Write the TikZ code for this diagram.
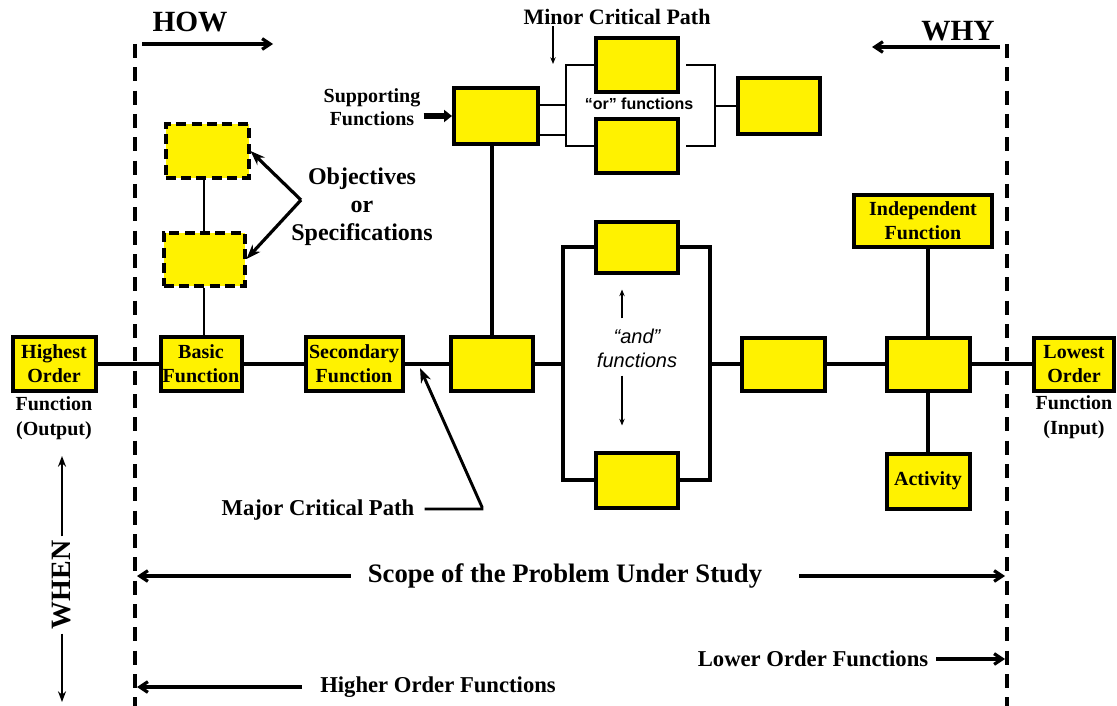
\documentclass[tikz,border=0pt]{standalone}
\usepackage{fontspec}
\setmainfont{Liberation Serif}
\newfontfamily\arialfont{Liberation Sans}
\usetikzlibrary{arrows.meta}
\newlength\pxu
\setlength\pxu{0.75pt}

\begin{document}
\begin{tikzpicture}[x=0.75pt, y=-0.75pt,
  fbox/.style={draw=black, fill=yellow, line width=3pt, inner sep=0pt,
    align=center, font=\bfseries\fontsize{15}{18}\selectfont},
  objbox/.style={fbox, dash pattern=on 7.5pt off 4pt},
  link/.style={line width=2.6pt},
  thinlink/.style={line width=1pt},
  boundary/.style={line width=2.5pt, dash pattern=on 10.5pt off 7pt},
  lbl/.style={inner sep=0pt, align=center, font=\bfseries\fontsize{15}{18}\selectfont},
  biglbl/.style={inner sep=0pt, align=center, font=\bfseries\fontsize{18}{20.5}\selectfont},
  midlbl/.style={inner sep=0pt, align=center, font=\bfseries\fontsize{17}{20}\selectfont},
  head/.style={inner sep=0pt, font=\bfseries\fontsize{22}{24}\selectfont},
  dirarrow/.style={line width=2.4pt, -{Straight Barb[length=6pt,width=8pt]}},
  pointer/.style={line width=2.4pt, -{Stealth[length=11pt,width=8pt]}},
  fine/.style={line width=1pt, -{Stealth[length=5pt,width=4pt]}},
]
\useasboundingbox (0,0) rectangle (1117,706);

% scope boundaries
\coordinate (Ltop) at (135,44);
\coordinate (Lbot) at (135,706);
\coordinate (Rtop) at (1007,44);
\coordinate (Rbot) at (1007,706);
\draw[boundary] (Ltop) -- (Lbot);
\draw[boundary] (Rtop) -- (Rbot);

% HOW / WHY directions
\node[head] (how) at (190,22) {HOW};
\draw[dirarrow] ([xshift=7\pxu]Ltop) -- ++(131,0);
\node[head] (why) at (958,31) {WHY};
\draw[dirarrow] ([xshift=-7\pxu,yshift=-3\pxu]Rtop) -- ++(-128,0);

% main path boxes
\node[fbox, minimum width=83\pxu, minimum height=54\pxu] (hi) at (54,364) {Highest\\Order};
\node[fbox, minimum width=81\pxu, minimum height=54\pxu] (basic) at (201,364) {Basic\\Function};
\node[fbox, minimum width=97\pxu, minimum height=54\pxu] (second) at (354,364) {Secondary\\Function};
\node[fbox, minimum width=82\pxu, minimum height=54\pxu] (m3) at (492,364) {};
\node[fbox, minimum width=83\pxu, minimum height=53\pxu] (m5) at (783,364) {};
\node[fbox, minimum width=83\pxu, minimum height=53\pxu] (m6) at (928,364) {};
\node[fbox, minimum width=80\pxu, minimum height=53\pxu] (lo) at (1074,364) {Lowest\\Order};

\node[lbl, font=\bfseries\fontsize{15}{19}\selectfont] (hiL) at (54,418) {Function\\(Output)};
\node[lbl, font=\bfseries\fontsize{15}{19}\selectfont] (loL) at (1074,417) {Function\\(Input)};

% objectives (dashed)
\node[objbox, minimum width=83\pxu, minimum height=54\pxu] (obj1) at (207,151) {};
\node[objbox, minimum width=81\pxu, minimum height=53\pxu] (obj2) at (204,259) {};
\draw[thinlink] (obj2) -- (obj2 |- obj1.south);
\draw[thinlink] (obj2) -- (obj2 |- basic.north);
\node[biglbl, font=\bfseries\fontsize{18}{21}\selectfont] (objL) at (362,207) {Objectives\\or\\Specifications};
\coordinate (objtip) at (301,200);
\draw[pointer] (objtip) -- (obj1.east);
\draw[pointer] (objtip) -- (obj2.east);

% "and" branch
\node[fbox, minimum width=82\pxu, minimum height=51\pxu] (andT) at (637,247) {};
\node[fbox, minimum width=82\pxu, minimum height=55\pxu] (andB) at (637,480) {};
\coordinate (andL) at (563,364);
\coordinate (andR) at (710,364);
\draw[link] (andT) -| (andL) |- (andB);
\draw[link] (andT) -| (andR) |- (andB);
\node[inner sep=0pt, align=center, font=\arialfont\itshape\fontsize{15}{18}\selectfont] (andL2) at (637,348) {“and”\\functions};
\draw[fine] ([xshift=-15\pxu,yshift=10\pxu]andL2.north) -- ([xshift=-15\pxu,yshift=-15\pxu]andL2.north |- andT.south);
\draw[fine] ([xshift=-15\pxu,yshift=-8\pxu]andL2.south) -- ([xshift=-15\pxu,yshift=25\pxu]andL2.south |- andB.north);

% main path connectors
\draw[link] (hi) -- (basic);
\draw[link] (basic) -- (second);
\draw[link] (second) -- (m3);
\draw[link] (m3) -- (andL);
\draw[link] (andR) -- (m5);
\draw[link] (m5) -- (m6);
\draw[link] (m6) -- (lo);

% independent function and activity
\node[fbox, minimum width=138\pxu, minimum height=52\pxu] (indep) at (923,221) {Independent\\Function};
\node[fbox, minimum width=83\pxu, minimum height=55\pxu] (act) at (928,481) {Activity};
\draw[link] (m6) -- (m6 |- indep.south);
\draw[link] (m6) -- (act);

% supporting functions and "or" branch
\node[fbox, minimum width=84\pxu, minimum height=56\pxu] (sup) at (496,116) {};
\draw[link] (m3) -- (m3 |- sup.south);
\node[lbl, font=\bfseries\fontsize{15}{17.5}\selectfont] (supL) at (372,107) {Supporting\\Functions};
\draw[line width=3.8pt, -{Triangle[length=6pt,width=9pt]}] ([xshift=3\pxu]supL.east |- sup.west) -- (sup.west);

\node[fbox, minimum width=82\pxu, minimum height=54\pxu] (orT) at (637,65) {};
\node[fbox, minimum width=82\pxu, minimum height=54\pxu] (orB) at (637,146) {};
\node[fbox, minimum width=82\pxu, minimum height=56\pxu] (orR) at (779,106) {};
\draw[thinlink] ([yshift=-19\pxu]sup.east) -- ++(26,0) |- (orT.west);
\draw[thinlink] ([yshift=11\pxu]sup.east) -- ++(26,0) |- (orB.west);
\draw[thinlink] ([xshift=6\pxu]orT.east) -- ++(29,0) coordinate (orJ) |- ([xshift=6\pxu]orB.east);
\draw[thinlink] (orJ |- orR.west) -- (orR.west);
\node[inner sep=0pt, font=\arialfont\bfseries\fontsize{12}{14}\selectfont] (orL) at (639,104) {“or” functions};

\node[midlbl, font=\bfseries\fontsize{16.5}{19}\selectfont] (minor) at (617,17) {Minor Critical Path};
\draw[fine] ([xshift=-64\pxu,yshift=-1\pxu]minor.south) -- ([xshift=-64\pxu,yshift=-28\pxu]minor.south |- orT.north);

% major critical path
\node[midlbl] (major) at (318,510) {Major Critical Path};
\coordinate (majK) at (482,507);
\coordinate (majT) at (420,368);
\draw[pointer, line width=2.2pt] ([xshift=10\pxu]major.east |- 0,509) -- (majK |- 0,509) -- (majK) -- (majT);

% scope of study
\node[inner sep=0pt, font=\bfseries\fontsize{20}{22}\selectfont] (scope) at (565,576) {Scope of the Problem Under Study};
\draw[dirarrow] ([xshift=-17\pxu]scope.west) -- ([xshift=2\pxu]Ltop |- scope);
\draw[dirarrow] ([xshift=37\pxu]scope.east) -- ([xshift=-2\pxu]Rtop |- scope);

\node[midlbl] (lower) at (813,659) {Lower Order Functions};
\draw[dirarrow] ([xshift=8\pxu]lower.east) -- ([xshift=-2\pxu]Rtop |- lower.east);
\node[midlbl] (higher) at (438,687) {Higher Order Functions};
\draw[dirarrow] ([xshift=-18\pxu]higher.west) -- ([xshift=2\pxu]Ltop |- higher.west);

% WHEN
\node[head, rotate=90, font=\bfseries\fontsize{21}{24}\selectfont] (when) at (62,585) {WHEN};
\draw[line width=2.2pt, -{Stealth[length=8pt,width=6pt]}] ([yshift=4\pxu]when.east) -- ([yshift=-16\pxu]when.east |- hiL.south);
\draw[line width=2.2pt, -{Stealth[length=8pt,width=6pt]}] ([yshift=-4\pxu]when.west) -- ([yshift=4\pxu]when.west |- Lbot);

\end{tikzpicture}
\end{document}
